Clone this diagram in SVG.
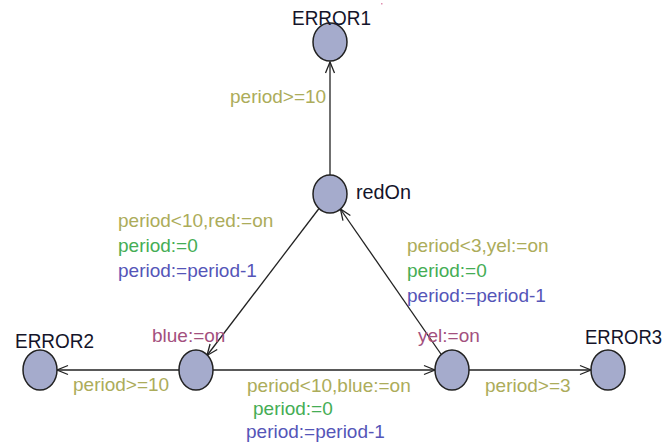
<svg xmlns="http://www.w3.org/2000/svg" width="667" height="448" viewBox="0 0 667 448">
  <style>
    .loc { fill: #a5abcc; stroke: #222; stroke-width: 1.5; }
    .name { font-family: "Liberation Sans", Arial, sans-serif; font-size: 20px; fill: #14142a; }
    .lbl { font-family: "Liberation Sans", Arial, sans-serif; font-size: 19px; }
    .guard { fill: #acac5a; }
    .zero { fill: #45ad55; }
    .dec { fill: #5555b8; }
    .sync { fill: #a3507e; }
    .edge { fill: none; stroke: #222; stroke-width: 1.3; }
  </style>
  <defs>
    <marker id="arrow" markerUnits="userSpaceOnUse" markerWidth="14" markerHeight="12" refX="12" refY="6" orient="auto" viewBox="0 0 14 12">
      <path d="M1,1.5 L12,6 L1,10.5" fill="none" stroke="#222" stroke-width="1.3"/>
    </marker>
  </defs>

  <rect width="667" height="448" fill="#ffffff"/>
  <rect x="381" y="3" width="1.5" height="1.5" fill="#e090b0"/>

  <!-- transitions -->
  <g id="edges">
    <line class="edge" x1="330" y1="175" x2="330" y2="62" marker-end="url(#arrow)"/>
    <line class="edge" x1="319" y1="208.5" x2="207" y2="355.5" marker-end="url(#arrow)"/>
    <line class="edge" x1="441.6" y1="355" x2="340.4" y2="209" marker-end="url(#arrow)"/>
    <line class="edge" x1="213" y1="370" x2="435" y2="370" marker-end="url(#arrow)"/>
    <line class="edge" x1="179" y1="370" x2="57" y2="370" marker-end="url(#arrow)"/>
    <line class="edge" x1="469" y1="370" x2="591" y2="370" marker-end="url(#arrow)"/>
  </g>

  <!-- transition labels -->
  <g id="edge-labels" class="lbl">
    <text class="guard" x="230" y="103">period&gt;=10</text>

    <text class="guard" x="118" y="227">period&lt;10,red:=on</text>
    <text class="zero" x="118" y="252">period:=0</text>
    <text class="dec" x="118" y="277">period:=period-1</text>

    <text class="guard" x="407" y="252">period&lt;3,yel:=on</text>
    <text class="zero" x="407" y="277">period:=0</text>
    <text class="dec" x="407" y="302">period:=period-1</text>

    <text class="sync" x="152" y="342">blue:=on</text>
    <text class="sync" x="418" y="342">yel:=on</text>

    <text class="guard" x="73" y="391">period&gt;=10</text>
    <text class="guard" x="485" y="392">period&gt;=3</text>

    <text class="guard" x="247" y="392">period&lt;10,blue:=on</text>
    <text class="zero" x="253" y="415">period:=0</text>
    <text class="dec" x="246" y="438">period:=period-1</text>
  </g>

  <!-- locations -->
  <g id="ERROR1">
    <ellipse class="loc" cx="330" cy="42" rx="17" ry="19"/>
    <text class="name" x="292" y="25" textLength="79" lengthAdjust="spacingAndGlyphs">ERROR1</text>
  </g>
  <g id="redOn">
    <ellipse class="loc" cx="330" cy="194" rx="17" ry="19"/>
    <text class="name" x="356" y="199" textLength="55" lengthAdjust="spacingAndGlyphs">redOn</text>
  </g>
  <g id="ERROR2">
    <ellipse class="loc" cx="40" cy="370" rx="17" ry="20"/>
    <text class="name" x="15" y="348" textLength="79" lengthAdjust="spacingAndGlyphs">ERROR2</text>
  </g>
  <g id="blueOn">
    <ellipse class="loc" cx="196" cy="370" rx="17" ry="20"/>
  </g>
  <g id="yelOn">
    <ellipse class="loc" cx="452" cy="370" rx="17" ry="20"/>
  </g>
  <g id="ERROR3">
    <ellipse class="loc" cx="608" cy="370" rx="17" ry="20"/>
    <text class="name" x="585" y="344" textLength="77" lengthAdjust="spacingAndGlyphs">ERROR3</text>
  </g>
</svg>
